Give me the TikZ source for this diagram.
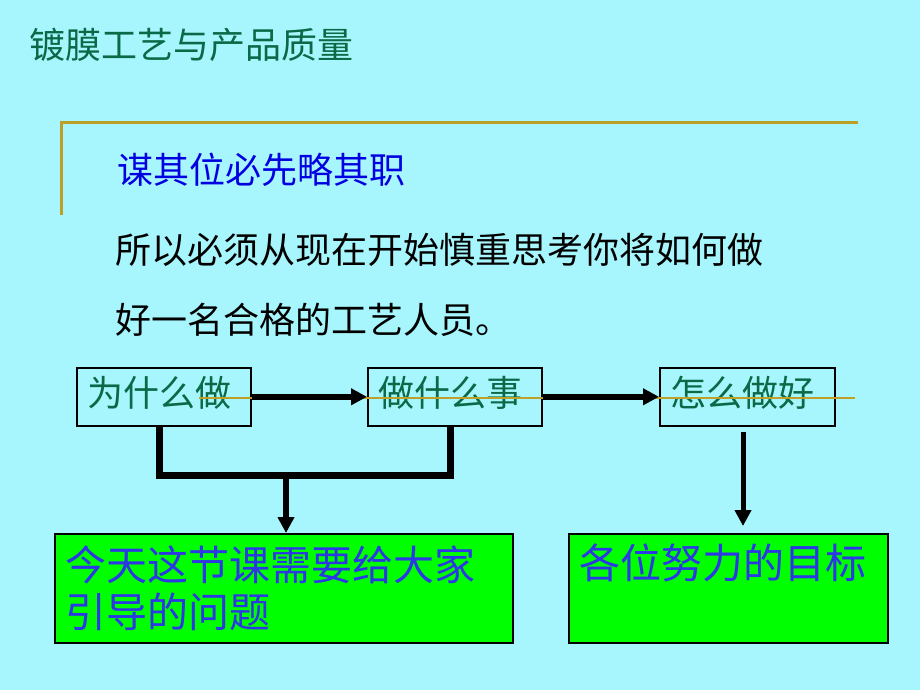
\documentclass[tikz,border=0pt]{standalone}
\usepackage{fontspec}
\setmainfont{Noto Sans CJK SC}
\usetikzlibrary{arrows.meta,calc}
\definecolor{bgcyan}{RGB}{168,246,253}
\definecolor{titlegreen}{RGB}{10,105,70}
\definecolor{subblue}{RGB}{0,0,225}
\definecolor{gold}{RGB}{190,160,40}
\definecolor{boxgreen}{RGB}{0,255,0}
\definecolor{boxblue}{RGB}{45,55,230}
\tikzset{
  txt/.style={anchor=west,inner sep=0pt},
  stepbox/.style={draw=black,line width=1.6pt,anchor=north west,minimum width=#1,minimum height=58pt,inner sep=0pt},
  goalbox/.style={draw=black,line width=1.8pt,fill=boxgreen,anchor=north west,minimum width=#1,minimum height=109pt,inner sep=0pt},
  steptext/.style={txt,text=titlegreen,font=\fontsize{36}{40}\selectfont},
  goaltext/.style={txt,text=boxblue,font=\fontsize{41}{47}\selectfont,align=left},
  arr/.style={line width=6pt,-{Triangle[length=16pt,width=16pt]}},
  bar/.style={line width=7pt},
  goldline/.style={draw=gold,line width=3pt}
}
\begin{document}
\begin{tikzpicture}[x=1pt,y=-1pt]
\useasboundingbox (0,0) rectangle (920,690);
\fill[bgcyan] (0,0) rectangle (920,690);
% title
\node[txt,text=titlegreen,font=\fontsize{36}{40}\selectfont] (title) at (29,45) {镀膜工艺与产品质量};
% gold frame
\coordinate (g1) at (858,123);
\coordinate (g2) at (61,123);
\coordinate (g3) at (61,215);
\draw[goldline] (g1) -- (g2) -- (g3);
\node[txt,text=subblue,font=\fontsize{36}{40}\selectfont] (sub) at (117,170) {谋其位必先略其职};
\node[txt,text=black,font=\fontsize{36}{40}\selectfont] (body1) at (115,250) {所以必须从现在开始慎重思考你将如何做};
\node[txt,text=black,font=\fontsize{36}{40}\selectfont] (body2) at (115,320) {好一名合格的工艺人员。};
% step boxes
\node[stepbox=174pt] (b1) at (76,367) {};
\node[stepbox=174pt] (b2) at (367,367) {};
\node[stepbox=175pt] (b3) at (659,367) {};
\node[steptext] (t1) at (87,393) {为什么做};
\node[steptext] (t2) at (378,393) {做什么事};
\node[steptext] (t3) at (670,393) {怎么做好};
% gold line across
\coordinate (h1) at (199,398);
\coordinate (h2) at (855,398);
\draw[goldline,line width=2pt] (h1) -- (h2);
% goal boxes
\node[goalbox=458pt] (b4) at (54,533) {};
\node[goalbox=319pt] (b5) at (568,533) {};
\node[goaltext] (t4) at (65,588) {今天这节课需要给大家\\引导的问题};
\node[goaltext] (t5) at (579,563) {各位努力的目标};
% connectors
\draw[arr] (b1.east) -- (b2.west);
\draw[arr] (b2.east) -- (b3.west);
\coordinate (j1) at (159,475);
\coordinate (j2) at (450,475);
\coordinate (jm) at (286,475);
\draw[bar] (b1.south -| j1) -- (j1) -- (j2) -- (b2.south -| j2);
\draw[arr] (jm) -- (b4.north -| jm);
\coordinate (k) at (743,432);
\draw[arr,line width=5pt,shorten >=7pt] (k) -- (b5.north -| k);
\end{tikzpicture}
\end{document}
